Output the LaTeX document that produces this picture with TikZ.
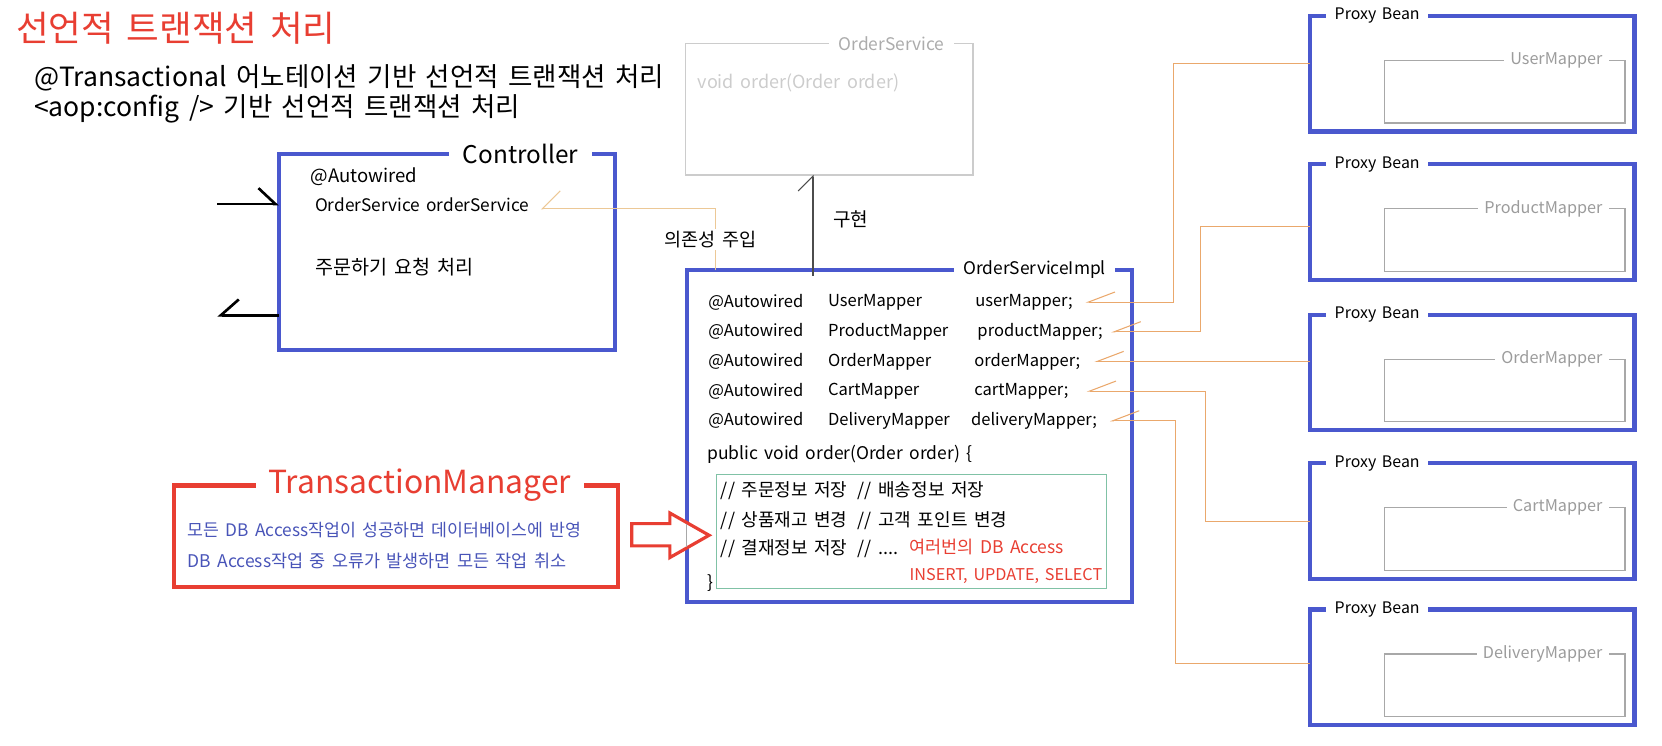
\documentclass[tikz,border=0pt]{standalone}
\usepackage{fontspec}
\setmainfont{Noto Sans CJK KR}[WordSpace=1.6]
\usetikzlibrary{arrows.meta}

\definecolor{beanblue}{RGB}{74,88,206}
\definecolor{alertred}{RGB}{232,62,50}
\definecolor{wireorange}{RGB}{234,168,108}
\definecolor{wiretan}{RGB}{236,200,150}
\definecolor{codegreen}{RGB}{128,194,166}
\definecolor{noteblue}{RGB}{72,84,184}
\definecolor{ghostline}{RGB}{204,204,204}
\definecolor{ghosttext}{RGB}{172,172,172}
\definecolor{mapperline}{RGB}{168,168,168}
\definecolor{mappertext}{RGB}{156,156,156}

\newcommand{\fsize}[1]{\fontsize{#1}{#1}\selectfont}

\begin{document}
\begin{tikzpicture}[x=1pt, y=-1pt]
    \tikzset{bean/.style       = {draw=beanblue, line width=4pt,
        outer sep=0pt, inner sep=0pt, anchor=north west},
      alert/.style      = {bean, draw=alertred},
      ghost/.style      = {draw=ghostline, line width=1.2pt,
        outer sep=0pt, inner sep=0pt, anchor=north west},
      codebox/.style    = {ghost, draw=codegreen},
      mapper/.style     = {ghost, draw=mapperline,
        minimum width=227pt, minimum height=59pt},
      proxy/.style      = {bean, minimum width=306pt, minimum height=109pt},
      boxname/.style    = {fill=white, inner xsep=9pt, inner ysep=1pt,
        font=\fsize{16.4}},
      beanname/.style   = {boxname, anchor=west, inner xsep=8pt,
        font=\fsize{15}},
      mappername/.style = {boxname, anchor=east, inner xsep=6pt,
        text=mappertext, font=\fsize{15.3}},
      txt/.style        = {anchor=west, inner sep=0pt, font=\fsize{15.6}},
      kotxt/.style      = {txt, font=\fsize{17}},
      hint/.style       = {fill=white, inner xsep=1pt, inner ysep=2pt,
        font=\fsize{17.5}},
      wire/.style       = {draw=wireorange, line width=1pt,
        -{Straight Barb[harpoon, swap, length=25pt, width=19pt]}},
      inject/.style     = {draw=wiretan, line width=1pt,
        -{Straight Barb[harpoon, swap, length=17pt, width=34pt]}},
      realize/.style    = {draw=black!70, line width=1pt,
        -{Straight Barb[harpoon, length=14pt, width=28pt]}},
      callin/.style     = {line width=2.5pt,
        -{Straight Barb[harpoon, length=16pt, width=30pt]}},
      callout/.style    = {line width=2.5pt,
        -{Straight Barb[harpoon, swap, length=17pt, width=30pt]}},
      push/.style       = {draw=alertred, line width=3pt, fill=white,
        line join=miter}}

    \useasboundingbox (0,0) rectangle (1568,703);

    % Title and the two ways of declaring transactions.
    \node[txt, font=\fsize{33.5}, text=alertred] (head) at (15,27) {선언적 트랜잭션 처리};
    \node[txt, font=\fsize{25}] (sub1) at (32,73) {@Transactional 어노테이션 기반 선언적 트랜잭션 처리};
    \node[txt, font=\fsize{25}] (sub2) at (32,103) {<aop:config /> 기반 선언적 트랜잭션 처리};

    % Controller.
    \node[bean, minimum width=317pt, minimum height=185pt] (ctl) at (263,145) {};
    \node[boxname, font=\fsize{23}, inner xsep=13pt] (ctl-t) at (491,145) {Controller};
    \node[txt, font=\fsize{17.5}] (ctl-a) at (293,167) {@Autowired};
    \node[txt, font=\fsize{16.3}] (ctl-f) at (297,193) {OrderService orderService};
    \node[txt, font=\fsize{18.5}] (ctl-m) at (297,252) {주문하기 요청 처리};
    \draw[callin] ([xshift=-58pt, yshift=45pt]ctl.west) -- ([yshift=45pt]ctl.west);
    \draw[callout] ([yshift=-60pt]ctl.west) -- ([xshift=-58pt, yshift=-60pt]ctl.west);

    % The interface.
    \node[ghost, minimum width=271pt, minimum height=124pt] (osi) at (647,41) {};
    \node[boxname, text=ghosttext] (osi-t) at (841,41) {OrderService};
    \node[txt, font=\fsize{17}, text=ghostline] (osi-m) at (658,78) {void order(Order order)};

    % The implementation and its mappers.
    \def\ColA{668}
    \def\ColB{781}
    \def\ColC{920}
    \node[bean, minimum width=420pt, minimum height=313pt] (imp) at (648,255) {};
    \node[boxname] (imp-t) at (976,254) {OrderServiceImpl};

    \node[txt] (aw1) at (\ColA,285) {@Autowired};
    \node[txt] (ty1) at (\ColB,285) {UserMapper};
    \node[txt] (fu)  at (\ColC,285) {userMapper;};
    \node[txt] (aw2) at (\ColA,313) {@Autowired};
    \node[txt] (ty2) at (\ColB,313) {ProductMapper};
    \node[txt] (fp)  at (\ColC+2,313) {productMapper;};
    \node[txt] (aw3) at (\ColA,341) {@Autowired};
    \node[txt] (ty3) at (\ColB,341) {OrderMapper};
    \node[txt] (fo)  at (\ColC-1,341) {orderMapper;};
    \node[txt] (aw4) at (\ColA,369) {@Autowired};
    \node[txt] (ty4) at (\ColB,369) {CartMapper};
    \node[txt] (fc)  at (\ColC-1,369) {cartMapper;};
    \node[txt] (aw5) at (\ColA,397) {@Autowired};
    \node[txt] (ty5) at (\ColB,397) {DeliveryMapper};
    \node[txt] (fd)  at (\ColC-4,397) {deliveryMapper;};

    % The order method.
    \def\CmtA{680}
    \def\CmtB{809}
    \node[txt, font=\fsize{16.5}] (pub) at (667,429) {public void order(Order order) \{};
    \node[codebox, minimum width=368pt, minimum height=107pt] (code) at (676,448) {};
    \node[kotxt] (c11) at (\CmtA,463) {// 주문정보 저장};
    \node[kotxt] (c12) at (\CmtB,463) {// 배송정보 저장};
    \node[kotxt] (c21) at (\CmtA,491) {// 상품재고 변경};
    \node[kotxt] (c22) at (\CmtB,491) {// 고객 포인트 변경};
    \node[kotxt] (c31) at (\CmtA,518) {// 결재정보 저장};
    \node[kotxt] (c32) at (\CmtB,518) {// ....};
    \node[txt, font=\fsize{16.5}, text=alertred] (db1) at (858,516) {여러번의 DB Access};
    \node[txt, font=\fsize{15.3}, text=alertred] (db2) at (858,543) {INSERT, UPDATE, SELECT};
    \node[txt, font=\fsize{16.5}] (close) at (667,550) {\}};

    % Transaction manager.
    \node[alert, minimum width=419pt, minimum height=96pt] (tm) at (164,458) {};
    \node[boxname, font=\fsize{30}, text=alertred, inner xsep=12pt] (tm-t) at (396,458) {TransactionManager};
    \node[txt, font=\fsize{16.3}, text=noteblue] (tm1) at (177,500) {모든 DB Access작업이 성공하면 데이터베이스에 반영};
    \node[txt, font=\fsize{16.5}, text=noteblue] (tm2) at (177,529) {DB Access작업 중 오류가 발생하면 모든 작업 취소};
    \draw[push] (596,494) -- (632,494) -- (632,484) -- (669,505) -- (632,526) -- (632,515) -- (596,515) -- cycle;
    \draw[draw=mapperline, line width=1.2pt] (648,494) -- (648,516);

    % Proxy beans.
    \node[proxy] (pb1) at (1236,15) {};
    \node[beanname] (pb1-t) at (1251,15) {Proxy Bean};
    \node[mapper] (mu) at (1306,57) {};
    \node[mappername] (mu-t) at (1518,57) {UserMapper};

    \node[proxy] (pb2) at (1236,155) {};
    \node[beanname] (pb2-t) at (1251,155) {Proxy Bean};
    \node[mapper] (mp) at (1306,197) {};
    \node[mappername] (mp-t) at (1518,197) {ProductMapper};

    \node[proxy] (pb3) at (1236,297) {};
    \node[beanname] (pb3-t) at (1251,297) {Proxy Bean};
    \node[mapper] (mo) at (1306,339) {};
    \node[mappername] (mo-t) at (1518,339) {OrderMapper};

    \node[proxy] (pb4) at (1236,437) {};
    \node[beanname] (pb4-t) at (1251,437) {Proxy Bean};
    \node[mapper] (mc) at (1306,479) {};
    \node[mappername] (mc-t) at (1518,479) {CartMapper};

    \node[proxy] (pb5) at (1236,575) {};
    \node[beanname] (pb5-t) at (1251,575) {Proxy Bean};
    \node[mapper] (md) at (1306,617) {};
    \node[mappername] (md-t) at (1518,617) {DeliveryMapper};

    % Injection and implementation links.
    \draw[inject] ([xshift=27pt]imp.north west) |- node[hint, pos=0.25, xshift=-5pt] {의존성 주입} ([xshift=11pt, yshift=-4pt]ctl-f.east);
    \draw[realize] ([xshift=119pt, yshift=-5pt]imp.north west) -- ([xshift=120pt]osi.south west);
    \node[txt, font=\fsize{18}] (impl-l) at (786,207) {구현};

    \draw[wire] ([yshift=-45pt]pb1.north west) -- ++(-129,0) |- ([xshift=12pt]fu.east);
    \draw[wire] ([yshift=-59pt]pb2.north west) -- ++(-103,0) |- ([xshift=8pt]fp.east);
    \draw[wire] (fo.east -| pb3.west) -- ([xshift=13pt]fo.east);
    \draw[wire] ([yshift=-55pt]pb4.north west) -- ++(-99,0) |- ([xshift=17pt]fc.east);
    \draw[wire] ([yshift=-51pt]pb5.north west) -- ++(-127,0) |- ([xshift=12pt]fd.east);
\end{tikzpicture}
\end{document}
